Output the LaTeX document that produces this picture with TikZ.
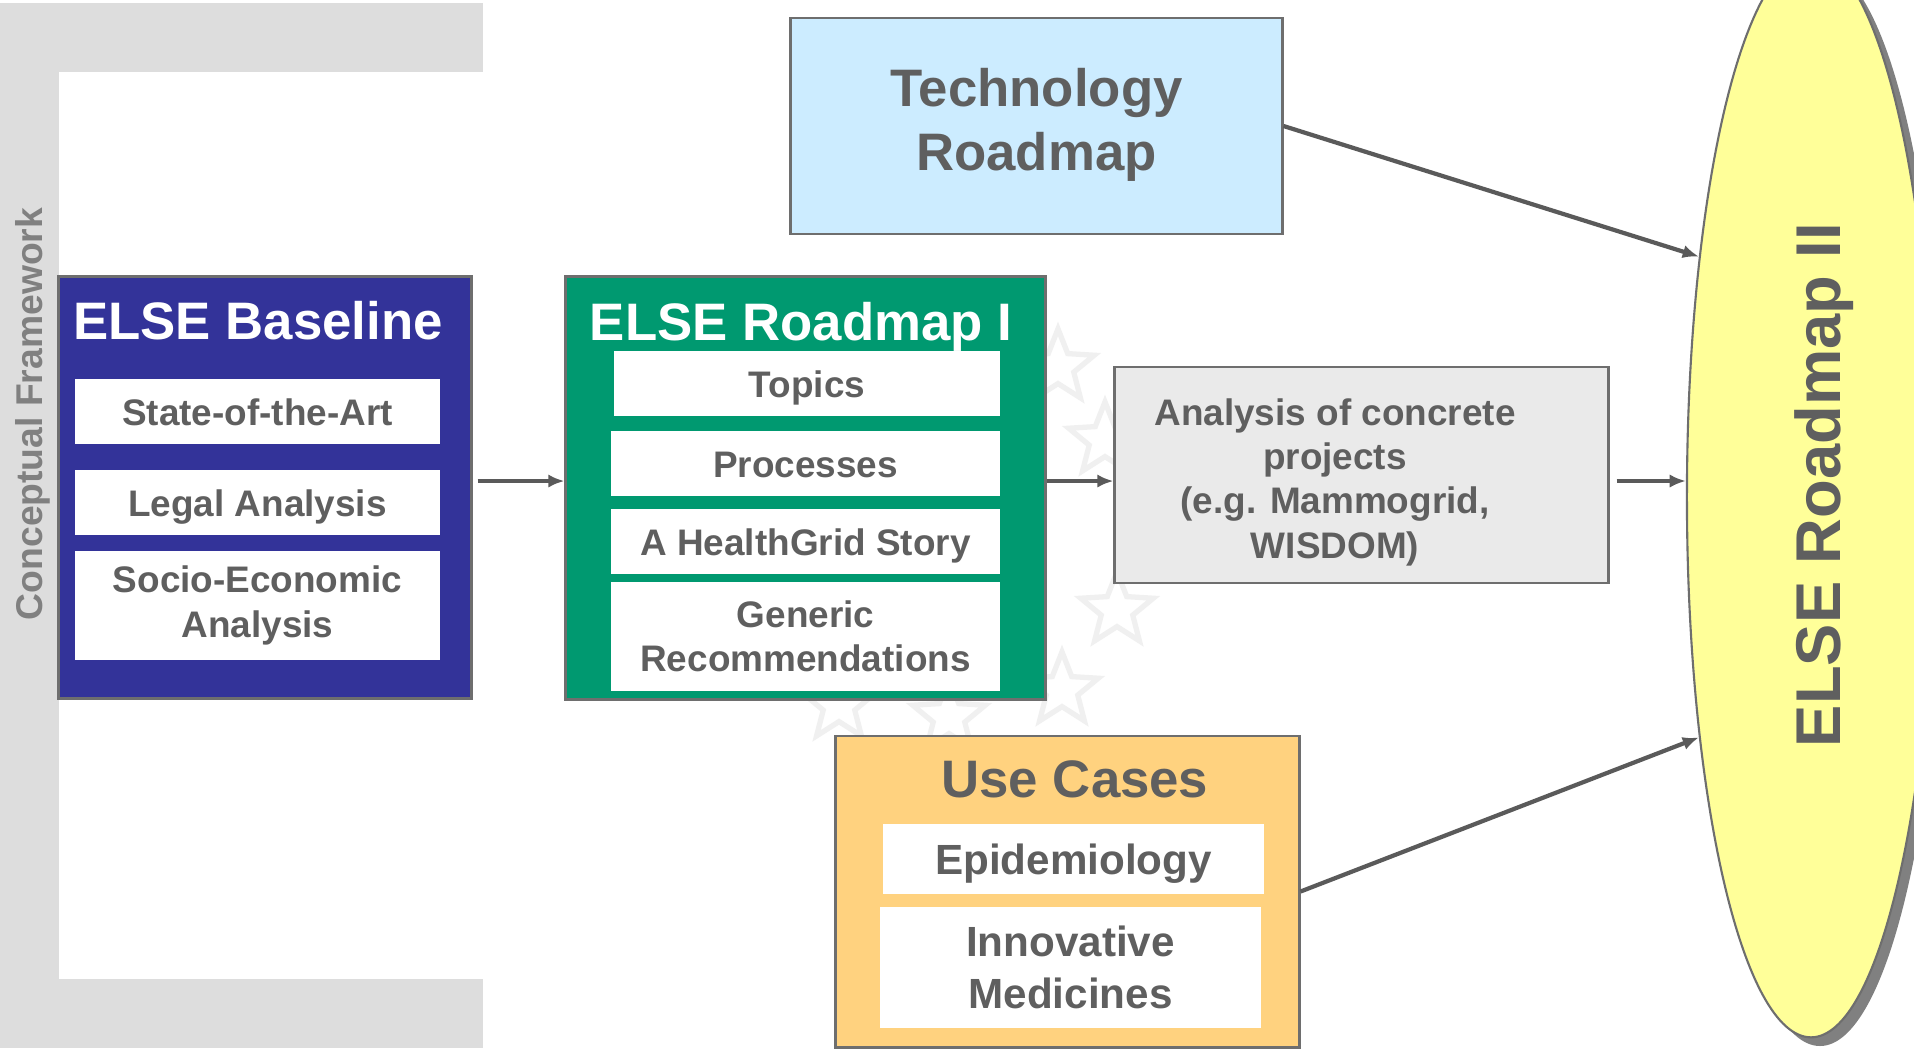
\documentclass[tikz,border=0pt]{standalone}
\usepackage{fontspec}
\setmainfont{Liberation Sans}
\usetikzlibrary{arrows.meta,shapes.geometric}
\definecolor{bracketgray}{HTML}{DDDDDD}
\definecolor{cfgray}{HTML}{808080}
\definecolor{txtgray}{HTML}{5F5F5F}
\definecolor{linegray}{HTML}{6E6E6E}
\definecolor{arrowgray}{HTML}{5A5A5A}
\definecolor{basblue}{HTML}{333399}
\definecolor{rmgreen}{HTML}{009970}
\definecolor{techblue}{HTML}{CCECFF}
\definecolor{anagray}{HTML}{EAEAEA}
\definecolor{ucorange}{HTML}{FFD27F}
\definecolor{rmyellow}{HTML}{FFFF99}
\definecolor{shadowgray}{HTML}{808080}
\begin{document}
\begin{tikzpicture}[x=0.01cm,y=-0.01cm,
	outer/.style={draw=linegray,line width=0.8pt,inner sep=0pt},
	item/.style={fill=white,inner sep=0pt,text=txtgray,align=center,font=\fontsize{10.5}{12.6}\selectfont\bfseries},
	single/.style={text height=7.7pt,text depth=0pt},
	head/.style={anchor=base,font=\fontsize{15}{18}\selectfont\bfseries},
	flow/.style={draw=arrowgray,line width=1.2pt,-{Latex[length=4.6pt,width=3.8pt]}},
	faintstar/.style={star,star points=5,star point ratio=2.3,minimum size=0.62cm,fill=white,draw=black!6,line width=1.5pt}]
	\clip (0,0) rectangle (1914,1053);
	\fill[white] (0,0) rectangle (1914,1053);
	% conceptual framework
	\fill[bracketgray] (0,3) rectangle (483,72);
	\fill[bracketgray] (0,3) rectangle (59,1048);
	\fill[bracketgray] (0,979) rectangle (483,1048);
	\node[rotate=90,text=cfgray,font=\fontsize{10.6}{12}\selectfont\bfseries] (cf) at (33,414) {Conceptual Framework};
	\foreach \sx/\sy in {1058/367,1105/440,1117/610,1062/690,949/717,839/705}
		\node[faintstar] at (\sx,\sy) {};
	% baseline
	\node[outer,fill=basblue,minimum width=4.12cm,minimum height=4.21cm] (base) at (265,487.5) {};
	\node[head,text=white] (baset) at (258,339) {ELSE Baseline};
	\node[item,single,minimum width=3.65cm,minimum height=0.65cm] (sota) at (257.5,411.5) {State-of-the-Art};
	\node[item,single,minimum width=3.65cm,minimum height=0.65cm] (legal) at (257.5,502.5) {Legal Analysis};
	\node[item,minimum width=3.65cm,minimum height=1.09cm] (socio) at (257.5,605.5) {Socio-Economic\\Analysis};
	% roadmap I
	\node[outer,fill=rmgreen,minimum width=4.79cm,minimum height=4.22cm] (rmI) at (805.5,488) {};
	\node[head,text=white] (rmIt) at (801,340) {ELSE Roadmap I};
	\node[item,single,minimum width=3.86cm,minimum height=0.65cm] (topics) at (807,383.5) {Topics};
	\node[item,single,minimum width=3.89cm,minimum height=0.65cm] (proc) at (805.5,463.5) {Processes};
	\node[item,single,minimum width=3.89cm,minimum height=0.65cm] (story) at (805.5,541.5) {A HealthGrid Story};
	\node[item,minimum width=3.89cm,minimum height=1.09cm] (reco) at (805.5,636.5) {Generic\\Recommendations};
	% technology roadmap
	\node[outer,fill=techblue,minimum width=4.91cm,minimum height=2.16cm] (tech) at (1036.5,126) {};
	\node[text=txtgray,align=center,font=\fontsize{15}{18.2}\selectfont\bfseries] (techt) at (1036.5,125) {Technology\\Roadmap};
	% analysis
	\node[outer,fill=anagray,minimum width=4.93cm,minimum height=2.16cm] (ana) at (1361.5,475) {};
	\node[text=txtgray,align=center,font=\fontsize{10.5}{12.6}\selectfont\bfseries] (anat) at (1335,482) {Analysis of concrete\\projects\\(e.g. Mammogrid,\\WISDOM)};
	% use cases
	\node[outer,fill=ucorange,minimum width=4.63cm,minimum height=3.11cm] (uc) at (1067.5,891.5) {};
	\node[head,text=txtgray] (uct) at (1075,797) {Use Cases};
	\node[item,font=\fontsize{12}{14.8}\selectfont\bfseries,text height=8.8pt,text depth=0pt,minimum width=3.81cm,minimum height=0.70cm] (epi) at (1073.5,859) {Epidemiology};
	\node[item,font=\fontsize{12}{14.8}\selectfont\bfseries,minimum width=3.81cm,minimum height=1.21cm] (med) at (1070.5,967.5) {Innovative\\Medicines};
	% roadmap II
	\fill[shadowgray] (1820,506) ellipse [x radius=124,y radius=540];
	\node[ellipse,draw=linegray,line width=0.6pt,fill=rmyellow,inner sep=0pt,minimum width=2.48cm,minimum height=10.8cm] (rmII) at (1811,497) {};
	\node[rotate=90,text=txtgray,font=\fontsize{18}{20}\selectfont\bfseries] (rmIIt) at (1824,485) {ELSE Roadmap II};
	% arrows
	\coordinate (row) at (0,481);
	\draw[flow] ([xshift=0.05cm]base.east |- row) -- (rmI.west |- row);
	\draw[flow] (rmI.east |- row) -- (ana.west |- row);
	\draw[flow] ([xshift=0.07cm]ana.east |- row) -- (rmII.west |- row);
	\draw[flow] (tech.east) -- (rmII.115);
	\draw[flow] (uc.east) -- (rmII.245);
\end{tikzpicture}
\end{document}
